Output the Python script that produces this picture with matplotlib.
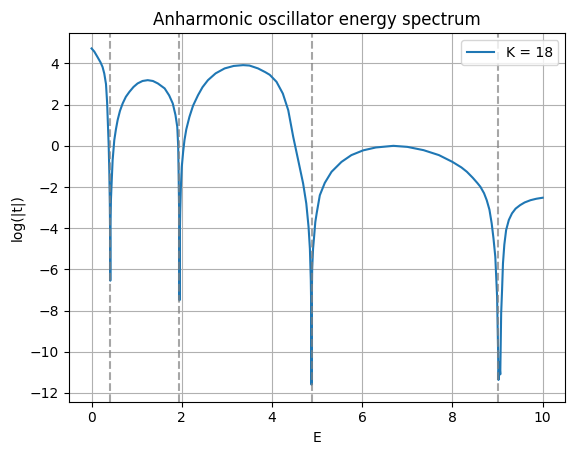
import numpy as np
import matplotlib
matplotlib.use('Agg')
import matplotlib.pyplot as plt

# =============================================================================
# Values
# =============================================================================
K = 18

# energy levels (dashed lines)
levels = [0.415, 1.949, 4.877, 9.015]

# log(|t|) curve, E values
E = [0.0, 0.06, 0.13, 0.2, 0.244, 0.282, 0.32, 0.345, 0.365, 0.38, 0.393,
     0.405, 0.412, 0.4155,
     0.419, 0.43, 0.445, 0.467, 0.504, 0.54, 0.578, 0.63, 0.69, 0.76, 0.838,
     0.93, 1.02, 1.13, 1.245, 1.36, 1.47, 1.62, 1.72, 1.8, 1.86, 1.9, 1.92,
     1.93, 1.94, 1.946, 1.949,
     1.955, 1.965, 1.98, 2.0, 2.03, 2.06, 2.1, 2.17, 2.25, 2.36, 2.46, 2.58,
     2.75, 2.95, 3.15, 3.36, 3.5, 3.69, 3.85, 3.95, 4.1, 4.24, 4.36,
     4.47, 4.58, 4.69, 4.76, 4.81, 4.84, 4.86, 4.87, 4.876,
     4.882, 4.89, 4.91, 4.93, 4.96, 4.99, 5.06, 5.17, 5.32, 5.54, 5.76, 6.02,
     6.3, 6.69, 7.0, 7.36, 7.7, 8.0, 8.2, 8.32, 8.45, 8.55, 8.62, 8.7, 8.76,
     8.82, 8.87, 8.91, 8.95, 8.99, 9.01, 9.02, 9.04, 9.06,
     9.08, 9.1, 9.12, 9.15, 9.19, 9.25, 9.32, 9.4, 9.5, 9.6, 9.73, 9.86, 10.0]

logt = [4.73, 4.58, 4.32, 4.05, 3.83, 3.51, 3.0, 2.1, 0.9, 0.0, -1.2,
        -2.8, -4.5, -6.55,
        -4.0, -2.6, -1.8, -0.7, 0.28, 0.8, 1.25, 1.7, 2.06, 2.38, 2.62,
        2.86, 3.03, 3.15, 3.19, 3.15, 3.03, 2.79, 2.45, 2.06, 1.5, 0.92, 0.0,
        -1.34, -3.0, -4.8, -7.5,
        -4.5, -3.2, -2.0, -1.02, -0.3, 0.28, 0.8, 1.41, 1.95, 2.46, 2.85, 3.19,
        3.52, 3.76, 3.88, 3.92, 3.9, 3.76, 3.58, 3.45, 3.11, 2.54, 1.73,
        0.44, -0.69, -1.83, -2.8, -3.93, -5.0, -6.5, -8.0, -11.6,
        -7.5, -6.0, -5.0, -4.5, -3.7, -3.28, -2.4, -1.8, -1.26, -0.78, -0.45, -0.22,
        -0.08, 0.0, -0.05, -0.21, -0.45, -0.78, -1.05, -1.26, -1.55, -1.8, -1.99, -2.3, -2.64,
        -3.1, -3.77, -4.5, -5.39, -7.33, -9.76, -11.37, -10.5, -11.1,
        -8.13, -7.0, -5.71, -4.8, -4.09, -3.6, -3.28, -3.05, -2.88, -2.75, -2.64, -2.57, -2.52]

# =============================================================================
# Plot
# =============================================================================
fig = plt.figure(figsize=(5.75, 4.55), dpi=100)
fig.subplots_adjust(left=0.12, right=0.983, bottom=0.117, top=0.927)
ax = fig.add_subplot(1, 1, 1)

ax.plot(E, logt, label='K = ' + str(K))
for e in levels:
    ax.axvline(e, color='gray', linestyle='--', alpha=0.7)

ax.set_xlim(-0.5, 10.5)
ax.set_ylim(-12.43, 5.47)
ax.set_xlabel('E')
ax.set_ylabel('log(|t|)')
ax.set_title('Anharmonic oscillator energy spectrum')
ax.grid(True)
ax.legend(loc='upper right')

fig.savefig('out.png', dpi=100)
